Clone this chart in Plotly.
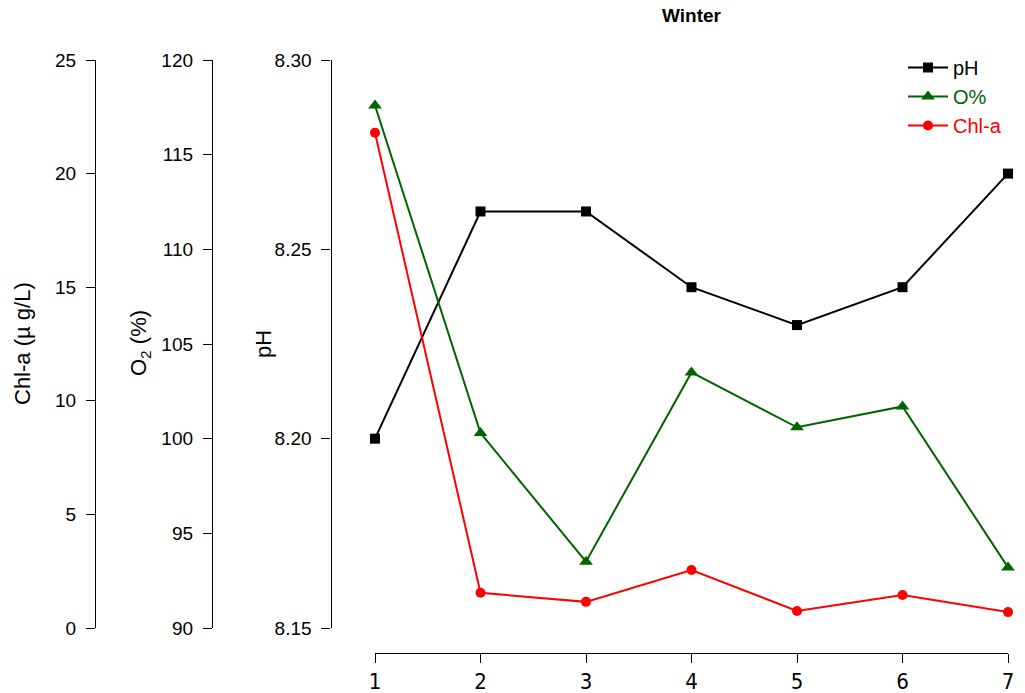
import plotly.graph_objects as go

# Sampling sites along the x axis
sites = [1, 2, 3, 4, 5, 6, 7]

# Winter measurements per site
ph_values = [8.20, 8.26, 8.26, 8.24, 8.23, 8.24, 8.27]
o2_values = [117.6, 100.3, 93.5, 103.5, 100.6, 101.7, 93.2]
chla_values = [21.8, 1.55, 1.15, 2.55, 0.75, 1.45, 0.70]

# Axis ticks
ph_ticks = [8.15, 8.20, 8.25, 8.30]
o2_ticks = [90, 95, 100, 105, 110, 115, 120]
chla_ticks = [0, 5, 10, 15, 20, 25]

# Figure size; layout positions below are given in pixels and turned into
# paper fractions (margins are zero and never auto-expanded).
W, H = 1025, 693
FONT = "Liberation Sans, Arial, sans-serif"


def px_x(p):
    return p / W


def px_y(p):
    return (H - p) / H


fig = go.Figure()

fig.add_trace(go.Scatter(
    x=sites, y=ph_values, name="pH", yaxis="y",
    mode="lines+markers", cliponaxis=False,
    line=dict(color="black", width=2),
    marker=dict(symbol="square", size=10, color="black"),
))
fig.add_trace(go.Scatter(
    x=sites, y=o2_values, name='<span style="color:#006400">O%</span>', yaxis="y2",
    mode="lines+markers", cliponaxis=False,
    line=dict(color="#006400", width=2),
    marker=dict(symbol="triangle-up", size=12, color="#006400"),
))
fig.add_trace(go.Scatter(
    x=sites, y=chla_values, name='<span style="color:#ff0000">Chl-a</span>', yaxis="y3",
    mode="lines+markers", cliponaxis=False,
    line=dict(color="#ff0000", width=2),
    marker=dict(symbol="circle", size=10, color="#ff0000"),
))

ydom = [px_y(628), px_y(60)]
yax_common = dict(
    domain=ydom, showline=True, linecolor="black", linewidth=1.3,
    ticks="outside", ticklen=9, tickwidth=1.3, tickcolor="black",
    showgrid=False, zeroline=False, anchor="free", side="left",
    automargin=False,
    tickfont=dict(family=FONT, size=19, color="black"),
    ticklabelstandoff=6,
)


def side_title(text, x, y):
    return dict(text=text, x=px_x(x), y=px_y(y), xref="paper", yref="paper",
                xanchor="center", yanchor="middle", textangle=-90, showarrow=False,
                font=dict(family=FONT, size=22, color="black"))


fig.update_layout(
    width=W, height=H,
    margin=dict(l=0, r=0, t=0, b=0, autoexpand=False),
    paper_bgcolor="white", plot_bgcolor="white",
    showlegend=True,
    xaxis=dict(
        domain=[px_x(375), px_x(1008)], range=[1, 7],
        tickvals=sites, ticktext=[str(s) for s in sites],
        showline=True, linecolor="black", linewidth=1.3,
        ticks="outside", ticklen=9, tickwidth=1.3, tickcolor="black",
        showgrid=False, zeroline=False, automargin=False,
        anchor="free", position=px_y(652.5),
        tickfont=dict(family="Liberation Sans Narrow, DejaVu Sans Condensed, sans-serif",
                      size=22, color="black"),
        ticklabelstandoff=0,
    ),
    yaxis=dict(range=[8.15, 8.30], tickvals=ph_ticks,
               ticktext=[f"{v:.2f}" for v in ph_ticks],
               position=px_x(330.5), **yax_common),
    yaxis2=dict(range=[90, 120], tickvals=o2_ticks,
                ticktext=[str(v) for v in o2_ticks],
                position=px_x(212), overlaying="y", **yax_common),
    yaxis3=dict(range=[0, 25], tickvals=chla_ticks,
                ticktext=[str(v) for v in chla_ticks],
                position=px_x(95), overlaying="y", **yax_common),
    legend=dict(
        x=px_x(903), y=px_y(48), xanchor="left", yanchor="top",
        bgcolor="rgba(0,0,0,0)", borderwidth=0,
        font=dict(family=FONT, size=20, color="black"),
        tracegroupgap=0, itemwidth=40,
    ),
    annotations=[
        dict(text="<b>Winter</b>", x=px_x(692), y=px_y(16), xref="paper", yref="paper",
             xanchor="center", yanchor="middle", showarrow=False,
             font=dict(family=FONT, size=19, color="black")),
        side_title("Chl-a (\u00b5 g/L)", 22, 344),
        side_title("O<sub>2</sub> (%)", 140, 343),
        side_title("pH", 263, 344),
    ],
)

fig.write_html("out.html")
